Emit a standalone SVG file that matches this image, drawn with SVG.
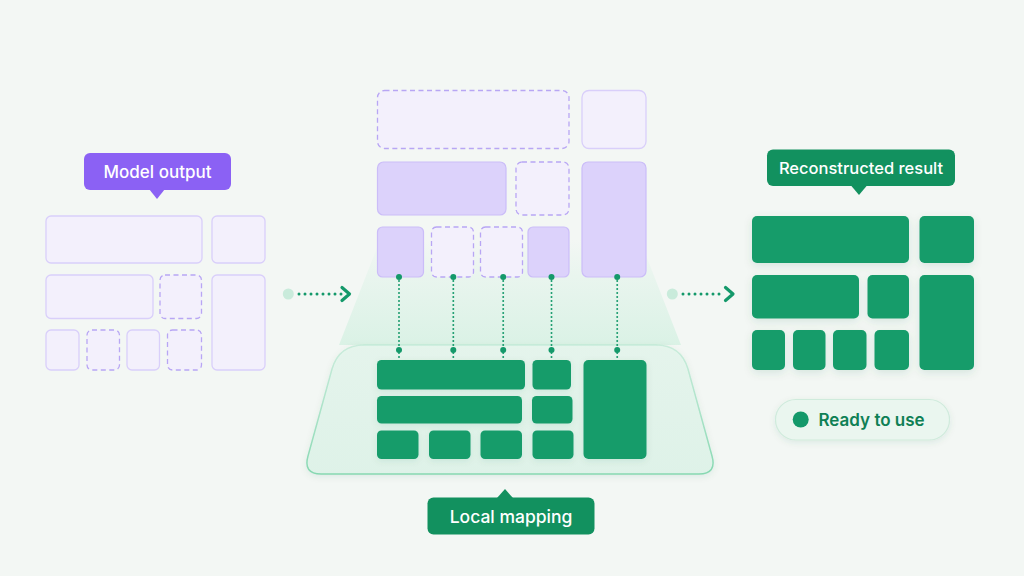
<svg xmlns="http://www.w3.org/2000/svg" width="1024" height="576" viewBox="0 0 1024 576">
  <defs>
    <style>
      .lav { fill: #F3F0FC; stroke: #D9CFFA; stroke-width: 1.3; }
      .lavd { fill: #F3F0FC; stroke: #B8A6F4; stroke-width: 1.3; stroke-dasharray: 5 3.5; }
      .pur { fill: #DCD2FB; stroke: #CBBDF8; stroke-width: 1.2; }
      .grn { fill: #159C6B; }
      .lbl { font-family: Inter, "Noto Sans", "Liberation Sans", sans-serif; font-weight: 500; fill: #FFFFFF; text-anchor: middle; }
      .vdot { stroke: #14996A; stroke-width: 2; stroke-linecap: round; stroke-dasharray: 0 4; fill: none; }
      .hdot { stroke: #14996A; stroke-width: 3; stroke-linecap: round; stroke-dasharray: 0 6; fill: none; }
      .head { stroke: #14996A; stroke-width: 3.2; fill: none; stroke-linecap: round; stroke-linejoin: round; }
    </style>
    <linearGradient id="beam" x1="0" y1="0" x2="0" y2="1">
      <stop offset="0" stop-color="#D6F1E3" stop-opacity="0"/>
      <stop offset="0.35" stop-color="#D6F1E3" stop-opacity="0.35"/>
      <stop offset="1" stop-color="#D6F1E3" stop-opacity="0.85"/>
    </linearGradient>
    <linearGradient id="plat" x1="0" y1="0" x2="0" y2="1">
      <stop offset="0" stop-color="#E4F5EC"/>
      <stop offset="1" stop-color="#DDF3E8"/>
    </linearGradient>
    <linearGradient id="platStroke" x1="0" y1="0" x2="0" y2="1">
      <stop offset="0" stop-color="#A9E3C7" stop-opacity="0.5"/>
      <stop offset="1" stop-color="#86D8B1"/>
    </linearGradient>
    <filter id="sh" x="-20%" y="-20%" width="140%" height="160%">
      <feDropShadow dx="0" dy="3" stdDeviation="4" flood-color="#0E6B48" flood-opacity="0.12"/>
    </filter>
    <filter id="sh2" x="-20%" y="-20%" width="140%" height="160%">
      <feDropShadow dx="0" dy="2" stdDeviation="3" flood-color="#0E6B48" flood-opacity="0.10"/>
    </filter>
  </defs>

  <rect x="0" y="0" width="1024" height="576" fill="#F3F7F4"/>

  <!-- beam and platform -->
  <g id="platform">
    <polygon points="380,240 640,240 681,345 339,345" fill="url(#beam)"/>
    <path d="M 364 345 H 656 Q 681 345 688 369 L 712 456 Q 717 474 699 474 H 321 Q 303 474 308 456 L 332 369 Q 339 345 364 345 Z" fill="url(#plat)" fill-opacity="0.9" stroke="url(#platStroke)" stroke-width="1.5" filter="url(#sh2)"/>
  </g>

  <!-- left: model output -->
  <g id="model-output-label">
    <rect x="84" y="153" width="147" height="37" rx="6" fill="#8B61F4"/>
    <polygon points="149,189 165,189 157,199" fill="#8B61F4"/>
    <text class="lbl" x="157.5" y="177.5" font-size="17">Model output</text>
  </g>
  <g id="model-output-grid">
    <rect class="lav" x="46" y="216" width="156" height="47" rx="5"/>
    <rect class="lav" x="212" y="216" width="53" height="47" rx="5"/>
    <rect class="lav" x="46" y="275" width="107" height="43.5" rx="5"/>
    <rect class="lavd" x="160" y="275" width="41.5" height="43.5" rx="5"/>
    <rect class="lav" x="212" y="275" width="53" height="95" rx="5"/>
    <rect class="lav" x="46" y="330" width="33" height="40" rx="5"/>
    <rect class="lavd" x="87" y="330" width="32.5" height="40" rx="5"/>
    <rect class="lav" x="127" y="330" width="32.5" height="40" rx="5"/>
    <rect class="lavd" x="167.5" y="330" width="34" height="40" rx="5"/>
  </g>

  <!-- middle: purple grid -->
  <g id="mid-grid">
    <rect class="lavd" x="377.5" y="90.5" width="191.5" height="58" rx="7"/>
    <rect class="lav" x="582" y="90.5" width="64" height="58" rx="7"/>
    <rect class="pur" x="377.5" y="162" width="128.5" height="53" rx="6"/>
    <rect class="lavd" x="516" y="162" width="53" height="53" rx="6"/>
    <rect class="pur" x="582" y="162" width="64" height="115" rx="6"/>
    <rect class="pur" x="377.5" y="227" width="46" height="50" rx="5"/>
    <rect class="lavd" x="431.5" y="227" width="42" height="50" rx="5"/>
    <rect class="lavd" x="480.5" y="227" width="42" height="50" rx="5"/>
    <rect class="pur" x="528" y="227" width="41" height="50" rx="5"/>
  </g>

  <!-- platform green blocks -->
  <g id="local-grid" filter="url(#sh2)">
    <rect class="grn" x="377" y="360" width="148" height="29.5" rx="4.5"/>
    <rect class="grn" x="532.5" y="360" width="38.5" height="29.5" rx="4.5"/>
    <rect class="grn" x="377" y="396" width="145" height="27.5" rx="4.5"/>
    <rect class="grn" x="532" y="396" width="40.5" height="27.5" rx="4.5"/>
    <rect class="grn" x="377" y="430.5" width="41.5" height="28.5" rx="4.5"/>
    <rect class="grn" x="429" y="430.5" width="41.5" height="28.5" rx="4.5"/>
    <rect class="grn" x="480.5" y="430.5" width="41.5" height="28.5" rx="4.5"/>
    <rect class="grn" x="532.5" y="430.5" width="41" height="28.5" rx="4.5"/>
    <rect class="grn" x="583.5" y="360" width="63" height="99" rx="5"/>
  </g>

  <!-- connectors -->
  <g id="connectors">
    <line class="vdot" x1="399" y1="281" x2="399" y2="358"/>
    <line class="vdot" x1="453.3" y1="281" x2="453.3" y2="358"/>
    <line class="vdot" x1="503.2" y1="281" x2="503.2" y2="358"/>
    <line class="vdot" x1="551.5" y1="281" x2="551.5" y2="358"/>
    <line class="vdot" x1="617.2" y1="281" x2="617.2" y2="358"/>
    <g fill="#14996A">
      <circle cx="399" cy="277" r="3"/>
      <circle cx="453.3" cy="277" r="3"/>
      <circle cx="503.2" cy="277" r="3"/>
      <circle cx="551.5" cy="277" r="3"/>
      <circle cx="617.2" cy="277" r="3"/>
      <circle cx="399" cy="350" r="3"/>
      <circle cx="453.3" cy="350" r="3"/>
      <circle cx="503.2" cy="350" r="3"/>
      <circle cx="551.5" cy="350" r="3"/>
      <circle cx="617.2" cy="350" r="3"/>
    </g>
    <circle cx="288.3" cy="294" r="5.5" fill="#C9EBDB"/>
    <line class="hdot" x1="299" y1="294" x2="343" y2="294"/>
    <polyline class="head" points="342,287.5 349.5,294 342,300.5"/>
    <circle cx="672.3" cy="294" r="5.5" fill="#C9EBDB"/>
    <line class="hdot" x1="683" y1="294" x2="725" y2="294"/>
    <polyline class="head" points="725.5,287.5 733,294 725.5,300.5"/>
  </g>

  <!-- local mapping label -->
  <g id="local-mapping-label">
    <rect x="427.5" y="497.5" width="167" height="37" rx="6" fill="#12915F"/>
    <polygon points="497,498 513,498 505,489" fill="#12915F"/>
    <text class="lbl" x="511" y="522.5" font-size="17.5">Local mapping</text>
  </g>

  <!-- right: reconstructed result -->
  <g id="reconstructed-label">
    <rect x="767" y="149.5" width="188" height="36.5" rx="6" fill="#12915F"/>
    <polygon points="851,185.5 867,185.5 859,195" fill="#12915F"/>
    <text class="lbl" x="861" y="173.5" font-size="16.5">Reconstructed result</text>
  </g>
  <g id="reconstructed-grid" filter="url(#sh)">
    <rect class="grn" x="752" y="216" width="157" height="47" rx="5"/>
    <rect class="grn" x="919.5" y="216" width="54.5" height="47" rx="5"/>
    <rect class="grn" x="752" y="275" width="107" height="43.5" rx="5"/>
    <rect class="grn" x="867.5" y="275" width="41.5" height="43.5" rx="5"/>
    <rect class="grn" x="919.5" y="275" width="54.5" height="95" rx="5"/>
    <rect class="grn" x="752" y="330" width="33" height="40" rx="5"/>
    <rect class="grn" x="793" y="330" width="32.5" height="40" rx="5"/>
    <rect class="grn" x="833" y="330" width="33.5" height="40" rx="5"/>
    <rect class="grn" x="874.5" y="330" width="34.5" height="40" rx="5"/>
  </g>

  <g id="ready-badge">
    <rect x="775.5" y="399.5" width="174" height="40.5" rx="20.25" fill="#EAF6EF" stroke="#CFEBDC" stroke-width="1.2" filter="url(#sh2)"/>
    <circle cx="800.7" cy="419.5" r="8" fill="#14996A"/>
    <text x="818.5" y="426" font-family="Inter, 'Noto Sans', 'Liberation Sans', sans-serif" font-size="17" font-weight="600" fill="#0F8055">Ready to use</text>
  </g>
</svg>
